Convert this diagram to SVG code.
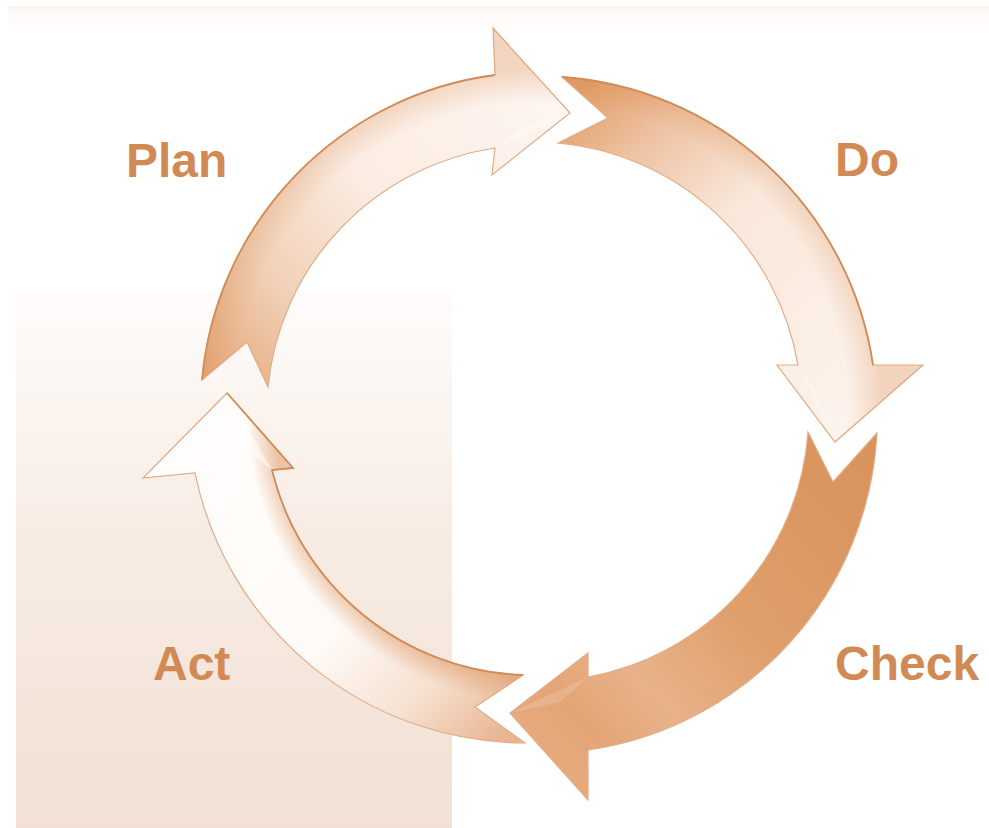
<svg xmlns="http://www.w3.org/2000/svg" width="989" height="828" viewBox="0 0 989 828">
<style>
  .lbl { font-family: "Liberation Sans", Arial, sans-serif; font-weight: bold; font-size: 48px; fill: #d28a55; }
  .shape { stroke: #e2ac84; stroke-width: 1.2; stroke-linejoin: miter; }
  .edge { fill: none; stroke: #d08c58; stroke-width: 1.8; }
</style>
<defs>
  <linearGradient id="bg" x1="0" y1="0" x2="0" y2="1">
    <stop offset="0" stop-color="#fefcfb"/>
    <stop offset="0.45" stop-color="#f7ece4"/>
    <stop offset="1" stop-color="#f1e0d3"/>
  </linearGradient>
  <linearGradient id="topband" x1="0" y1="0" x2="0" y2="1">
    <stop offset="0" stop-color="#f9f3ef"/>
    <stop offset="0.3" stop-color="#fdfaf8"/>
    <stop offset="1" stop-color="#fffefd"/>
  </linearGradient>
  <linearGradient id="gPlan" gradientUnits="userSpaceOnUse" x1="215" y1="380" x2="540" y2="80">
    <stop offset="0" stop-color="#e5aa7d"/>
    <stop offset="0.25" stop-color="#f1d0b7"/>
    <stop offset="0.55" stop-color="#fbece2"/>
    <stop offset="1" stop-color="#fdf5f0"/>
  </linearGradient>
  <linearGradient id="gDo" gradientUnits="userSpaceOnUse" x1="570" y1="95" x2="850" y2="420">
    <stop offset="0" stop-color="#e09c66"/>
    <stop offset="0.2" stop-color="#eec3a3"/>
    <stop offset="0.45" stop-color="#f9e7da"/>
    <stop offset="1" stop-color="#fcf3ec"/>
  </linearGradient>
  <linearGradient id="gCheck" gradientUnits="userSpaceOnUse" x1="860" y1="440" x2="520" y2="730">
    <stop offset="0" stop-color="#d9925b"/>
    <stop offset="0.45" stop-color="#df9e6a"/>
    <stop offset="0.72" stop-color="#e8b28a"/>
    <stop offset="0.88" stop-color="#e3a576"/>
    <stop offset="1" stop-color="#e6aa7d"/>
  </linearGradient>
  <linearGradient id="gAct" gradientUnits="userSpaceOnUse" x1="525" y1="715" x2="225" y2="410">
    <stop offset="0" stop-color="#e8b590"/>
    <stop offset="0.2" stop-color="#f6e0d0"/>
    <stop offset="0.45" stop-color="#fefaf7"/>
    <stop offset="1" stop-color="#fffdfb"/>
  </linearGradient>
  <radialGradient id="ringOuter" gradientUnits="userSpaceOnUse" cx="540" cy="410" r="342">
    <stop offset="0.8" stop-color="#d98c52" stop-opacity="0"/>
    <stop offset="0.9" stop-color="#d98c52" stop-opacity="0"/>
    <stop offset="1" stop-color="#d98c52" stop-opacity="0.3"/>
  </radialGradient>
  <radialGradient id="ringInner" gradientUnits="userSpaceOnUse" cx="540" cy="410" r="342">
    <stop offset="0.78" stop-color="#d98c52" stop-opacity="0.5"/>
    <stop offset="0.86" stop-color="#d98c52" stop-opacity="0"/>
    <stop offset="1" stop-color="#d98c52" stop-opacity="0"/>
  </radialGradient>
  <path id="pPlan" d="M202,380 L247,342 L268,387 A268,268 0 0 1 495,148 L492,175 L570,113 L493,28 L495,75 A338,338 0 0 0 202,380 Z"/>
  <path id="pDo" d="M562,77 L608,118 L558,143 A268,268 0 0 1 798,365 L777,365 L835,442 L923,365 L873,365 A338,338 0 0 0 562,77 Z"/>
  <path id="pCheck" d="M877,433 L833,482 L808,432 A268,268 0 0 1 588,677 L588,653 L510,713 L588,800 L588,750 A338,338 0 0 0 877,433 Z"/>
  <path id="pAct" d="M525,743 L475,707 L523,675 A268,268 0 0 1 272,470 L293,468 L227,393 L143,478 L195,473 A338,338 0 0 0 525,743 Z"/>
</defs>

<rect x="8" y="6" width="981" height="24" fill="url(#topband)"/>
<rect x="16" y="292" width="436" height="536" fill="url(#bg)"/>

<g id="plan">
  <use href="#pPlan" class="shape" fill="url(#gPlan)"/>
  <use href="#pPlan" fill="url(#ringOuter)"/>
  <path class="edge" d="M495,75 A338,338 0 0 0 202,380"/>
  <path d="M495,148 L570,113 L520,128 Z" fill="#ffffff" fill-opacity="0.3"/>
  <text class="lbl" x="126" y="177">Plan</text>
</g>

<g id="do">
  <use href="#pDo" class="shape" fill="url(#gDo)"/>
  <use href="#pDo" fill="url(#ringOuter)"/>
  <path class="edge" d="M873,365 A338,338 0 0 0 562,77"/>
  <path d="M798,365 L835,442 L815,390 Z" fill="#ffffff" fill-opacity="0.3"/>
  <text class="lbl" x="835" y="176">Do</text>
</g>

<g id="check">
  <use href="#pCheck" class="shape" fill="url(#gCheck)"/>
  <path d="M588,677 L510,713 L560,702 Z" fill="#ffffff" fill-opacity="0.15"/>
  <text class="lbl" x="835" y="680">Check</text>
</g>

<g id="act">
  <use href="#pAct" class="shape" fill="url(#gAct)"/>
  <use href="#pAct" fill="url(#ringInner)"/>
  <path class="edge" d="M523,675 A268,268 0 0 1 272,470 L293,468 L227,393"/>
  <path d="M272,470 L227,393 L245,450 Z" fill="#ffffff" fill-opacity="0.5"/>
  <text class="lbl" x="153" y="680">Act</text>
</g>

<g id="connectors"></g>
</svg>
